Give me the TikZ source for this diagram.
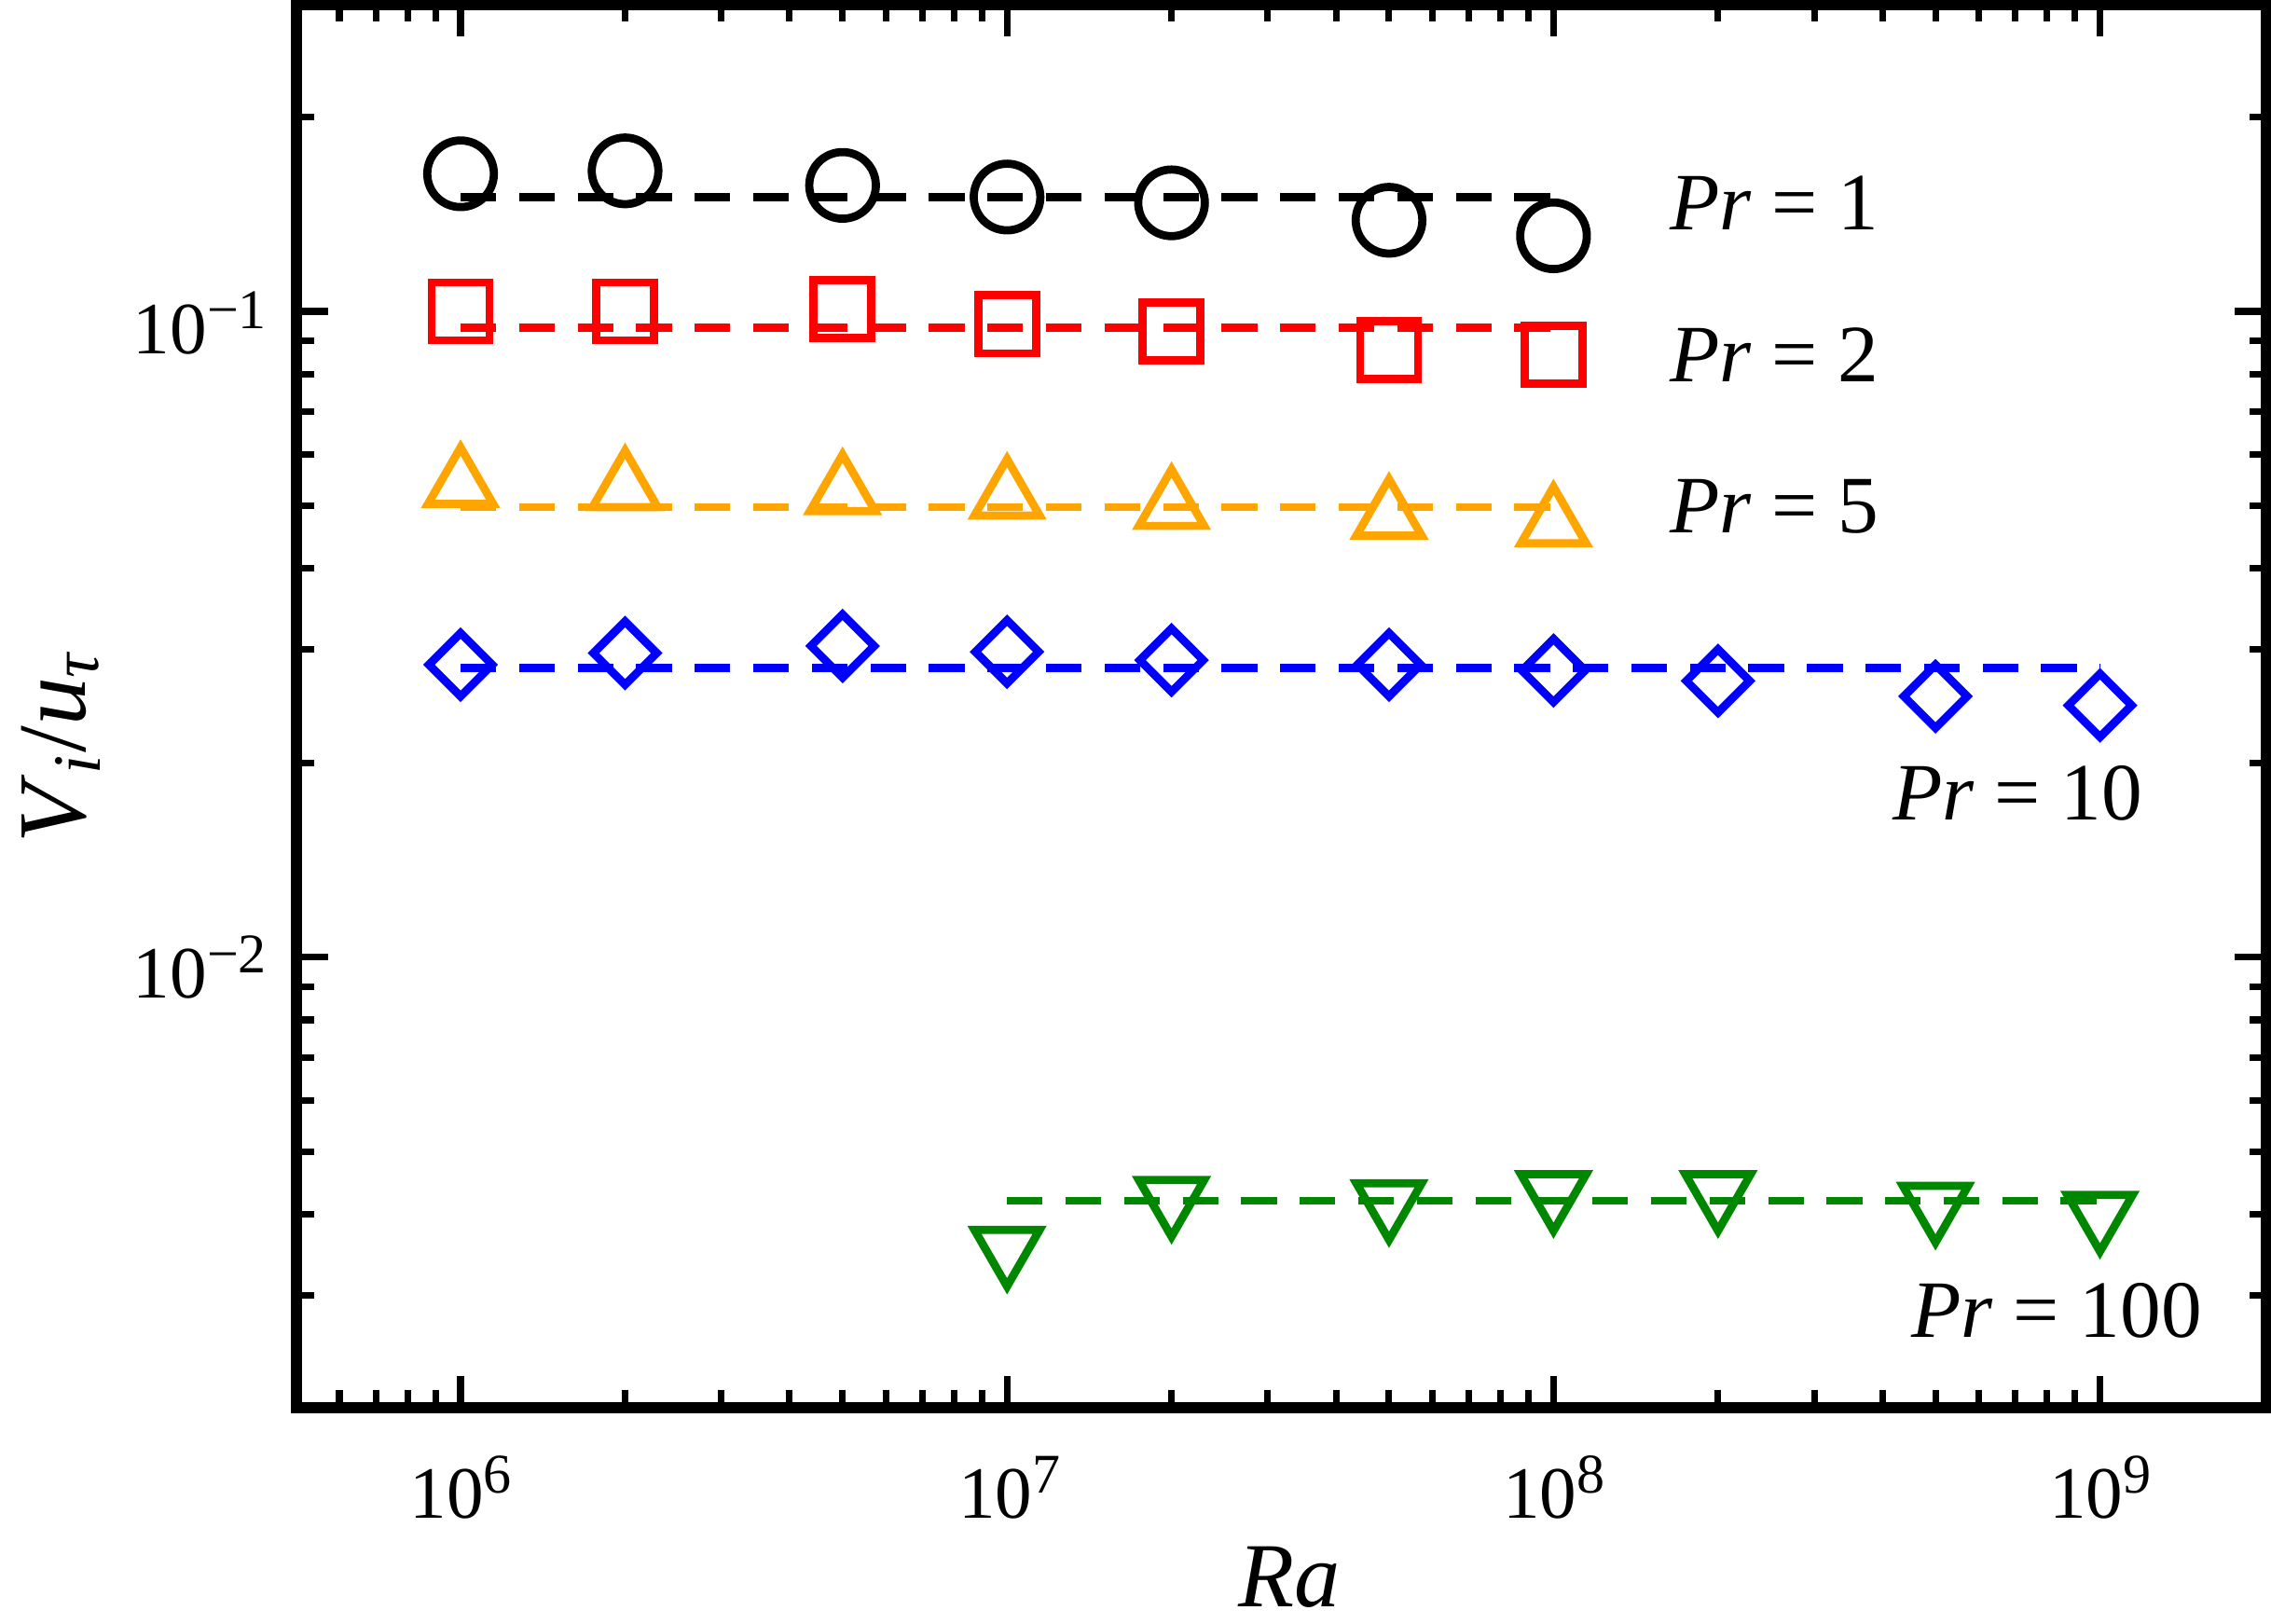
\documentclass[tikz,border=0pt]{standalone}
\usepackage{fontspec}
\setmainfont{Liberation Serif}
\usetikzlibrary{shapes.geometric}
\newcommand{\pw}[1]{10\raisebox{0.75ex}{\fontsize{11}{11}\selectfont #1}}
\tikzset{
  frame/.style={line width=2.2pt},
  tick/.style={line width=1.3pt},
  fitline/.style={line width=1.6pt, dash pattern=on 7pt off 4.5pt},
  mk/.style={draw, line width=1.6pt, inner sep=0pt, fill=none},
  circ/.style={mk, circle, minimum size=0.46cm},
  sq/.style={mk, rectangle, minimum size=0.40cm},
  tri/.style={mk, regular polygon, regular polygon sides=3, minimum size=0.52cm},
  dtri/.style={mk, regular polygon, regular polygon sides=3, shape border rotate=180, minimum size=0.52cm},
  dia/.style={mk, diamond, minimum size=0.46cm},
  lbl/.style={font=\fontsize{16}{18}\selectfont, anchor=center},
  ticklbl/.style={font=\fontsize{14.5}{17}\selectfont}
}
\definecolor{prorange}{RGB}{255,165,0}
\definecolor{prgreen}{RGB}{0,135,0}
\begin{document}
\begin{tikzpicture}
\useasboundingbox (0,0) rectangle (15.68,11.21);
% axes frame and ticks
\begin{scope}[x=3.773cm, y=4.46cm, shift={(3.18cm,9.06cm)}]
  \foreach \d in {-1,0,1,2,3} {
    \foreach \m in {2,...,9} {
      \pgfmathsetmacro{\xx}{\d+log10(\m)}
      \ifdim\xx pt<3.31pt \ifdim\xx pt>-0.30pt
        \draw[tick] (\xx,-1.697) -- ++(0,0.12cm);
        \draw[tick] (\xx,0.475) -- ++(0,-0.12cm);
      \fi\fi
    }
  }
  \foreach \d in {0,1,2,3} {
    \draw[tick] (\d,-1.697) -- ++(0,0.22cm);
    \draw[tick] (\d,0.475) -- ++(0,-0.22cm);
  }
  \foreach \d in {-2,-1,0} {
    \foreach \m in {2,...,9} {
      \pgfmathsetmacro{\yy}{\d+log10(\m)}
      \ifdim\yy pt<0.47pt \ifdim\yy pt>-1.69pt
        \draw[tick] (-0.3,\yy) -- ++(0.12cm,0);
        \draw[tick] (3.305,\yy) -- ++(-0.12cm,0);
      \fi\fi
    }
  }
  \foreach \d in {-1,0} {
    \draw[tick] (-0.3,\d) -- ++(0.22cm,0);
    \draw[tick] (3.305,\d) -- ++(-0.22cm,0);
  }
  \draw[frame] (-0.3,-1.697) rectangle (3.305,0.475);

  % Pr = 1
  \draw[fitline] (0,0.177) -- (2,0.177);
  \foreach \x/\y [count=\i] in {0/0.213,0.301/0.2175,0.699/0.195,1/0.177,1.301/0.168,1.699/0.141,2/0.117}
    \node[circ] (c\i) at (\x,\y) {};
  % Pr = 2
  \draw[fitline, red] (0,-0.025) -- (2,-0.025);
  \foreach \x/\y [count=\i] in {0/0,0.301/0,0.699/0.004,1/-0.020,1.301/-0.031,1.699/-0.060,2/-0.067}
    \node[sq, red] (s\i) at (\x,\y) {};
  % Pr = 5
  \draw[fitline, prorange] (0,-0.303) -- (2,-0.303);
  \foreach \x/\y [count=\i] in {0/-0.269,0.301/-0.274,0.699/-0.280,1/-0.287,1.301/-0.303,1.699/-0.318,2/-0.330}
    \node[tri, prorange] (t\i) at (\x,\y) {};
  % Pr = 10
  \draw[fitline, blue] (0,-0.552) -- (3,-0.552);
  \foreach \x/\y [count=\i] in {0/-0.547,0.301/-0.529,0.699/-0.518,1/-0.527,1.301/-0.540,1.699/-0.547,2/-0.556,2.301/-0.572,2.699/-0.596,3/-0.610}
    \node[dia, blue] (d\i) at (\x,\y) {};
  % Pr = 100
  \draw[fitline, prgreen] (1,-1.377) -- (3,-1.377);
  \foreach \x/\y [count=\i] in {1/-1.451,1.301/-1.374,1.699/-1.379,2/-1.365,2.301/-1.365,2.699/-1.383,3/-1.397}
    \node[dtri, prgreen] (v\i) at (\x,\y) {};
\end{scope}

% tick labels
\node[ticklbl] (x6) at (3.18,0.94) {\pw{6}};
\node[ticklbl] (x7) at (6.97,0.94) {\pw{7}};
\node[ticklbl] (x8) at (10.73,0.94) {\pw{8}};
\node[ticklbl] (x9) at (14.50,0.94) {\pw{9}};
\node[ticklbl] (ym1) at (1.38,8.98) {\pw{−1}};
\node[ticklbl] (ym2) at (1.38,4.53) {\pw{−2}};

% axis titles
\node[font=\fontsize{18}{20}\selectfont] (ra) at (8.90,0.32) {\textit{Ra}};
\node[font=\fontsize{19}{21}\selectfont, rotate=90] (vi) at (0.42,6.06)
  {\textit{V}\textsubscript{\textit{i}}/\textit{u}\textsubscript{\textit{τ}}};

% curve labels
\node[lbl] (p1) at (12.25,9.81) {\textit{Pr} = 1};
\node[lbl] (p2) at (12.25,8.76) {\textit{Pr} = 2};
\node[lbl] (p5) at (12.25,7.71) {\textit{Pr} = 5};
\node[lbl] (p10) at (13.93,5.73) {\textit{Pr} = 10};
\node[lbl] (p100) at (14.20,2.16) {\textit{Pr} = 100};
\end{tikzpicture}
\end{document}
